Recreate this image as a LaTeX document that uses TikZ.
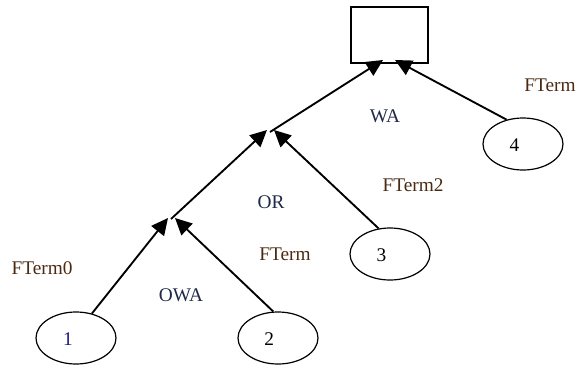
\documentclass[tikz,border=0pt]{standalone}
\usepackage{fontspec}
\setmainfont{Liberation Serif}
\usetikzlibrary{arrows.meta,shapes.geometric}
\definecolor{termcol}{HTML}{4A2A12}
\definecolor{opcol}{HTML}{1E2A48}
\definecolor{leafcol}{HTML}{1A1A80}
\begin{document}
\begin{tikzpicture}[x=0.75pt,y=-0.75pt,
  every node/.style={font=\fontsize{14.5}{17}\selectfont},
  leaf/.style={draw,ellipse,line width=0.9pt,minimum width=60pt,minimum height=39pt,inner sep=0pt},
  rootbox/.style={draw,rectangle,line width=1.1pt,minimum width=57.5pt,minimum height=42pt,inner sep=0pt},
  edge/.style={line width=1.4pt,-{Triangle[length=12.5pt,width=12pt]}},
  lbl/.style={anchor=base,inner sep=0pt},
  termlbl/.style={lbl,text=termcol},
  oplbl/.style={lbl,text=opcol}]
\useasboundingbox (0,0) rectangle (587,372);

% result box and leaves
\node[rootbox] (root) at (389.5,35) {};
\node[leaf,label={[xshift=-6pt,yshift=-1pt,text=leafcol]center:1}] (n1) at (76,338) {};
\node[leaf,label={[xshift=-6.5pt,yshift=-1pt]center:2}] (n2) at (278,338) {};
\node[leaf,label={[xshift=-6.5pt,yshift=-1pt]center:3}] (n3) at (390,254) {};
\node[leaf,label={[xshift=-6.5pt,yshift=-1pt]center:4}] (n4) at (523,144) {};

% aggregation junctions
\coordinate (j1) at (171,219);
\coordinate (j1l) at (168,218);
\coordinate (j1r) at (175,218);
\coordinate (j2) at (270,132);
\coordinate (j2l) at (267,130);
\coordinate (j2r) at (274,130);
\coordinate (rl) at (383,60);
\coordinate (rr) at (395,60);

% connectors
\draw[edge] (n1.57) -- (j1l);
\draw[edge] (n2.100) -- (j1r);
\draw[edge] (j1) -- (j2l);
\draw[edge] (n3.114) -- (j2r);
\draw[edge] (j2) -- (rl);
\draw[edge] (n4.124) -- (rr);

% labels
\node[termlbl] (t0) at (42,274) {FTerm0};
\node[oplbl] (owa) at (181,301) {OWA};
\node[termlbl] (t1) at (285,260) {FTerm};
\node[oplbl] (or) at (271,208) {OR};
\node[termlbl] (t2) at (413,191) {FTerm2};
\node[oplbl] (wa) at (385,122) {WA};
\node[termlbl] (t3) at (550,91) {FTerm};
\end{tikzpicture}
\end{document}
